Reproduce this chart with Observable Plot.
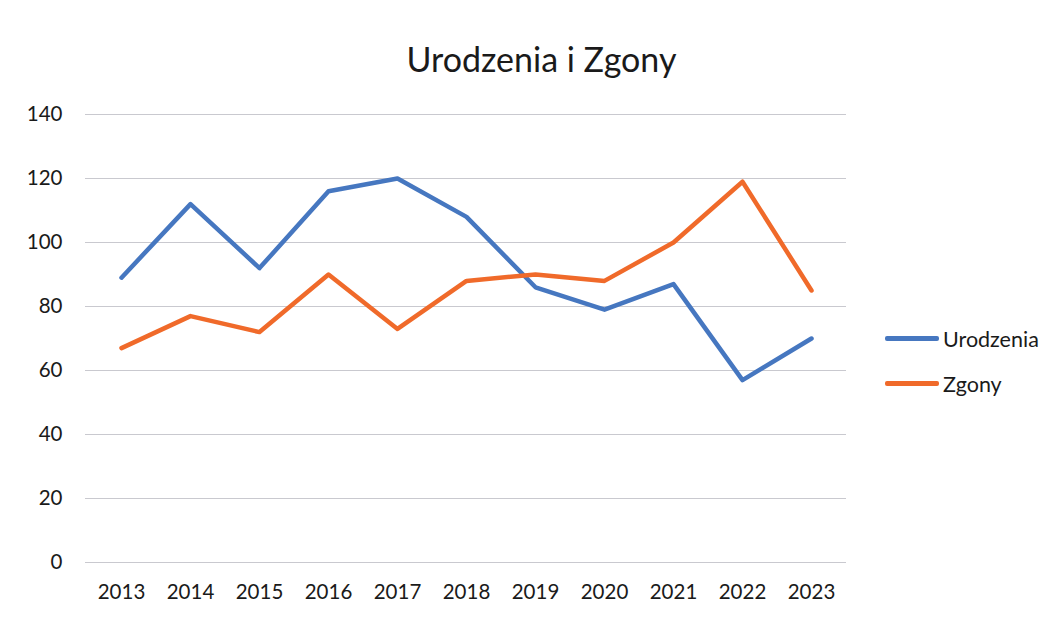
<!DOCTYPE html>
<html><head><meta charset="utf-8">
<script src="https://cdn.jsdelivr.net/npm/d3@7"></script>
<script src="https://cdn.jsdelivr.net/npm/@observablehq/plot@0.6"></script>
<style>
body{margin:0;background:#fff;font-family:Lato,"Open Sans",sans-serif;}
#wrap{position:relative;width:1059px;height:622px;}
#title{height:90px;line-height:1;font-size:34px;color:#1a1a1a;text-align:center;padding-left:24px;box-sizing:border-box;padding-top:42px;}
#legend{position:absolute;left:885px;top:316px;font-size:21.5px;color:#1a1a1a;}
.li{display:flex;align-items:center;height:45px;}
.sw{width:54px;height:4.5px;margin-right:4px;border-radius:2px;}
</style></head>
<body><div id="wrap"><div id="title">Urodzenia i Zgony</div><div id="chart"></div><div id="legend"></div></div>
<script>
const years = ["2013","2014","2015","2016","2017","2018","2019","2020","2021","2022","2023"];
const urodzenia = [89,112,92,116,120,108,86,79,87,57,70];
const zgony = [67,77,72,90,73,88,90,88,100,119,85];
const yTicks = [0,20,40,60,80,100,120,140];
const seriesNames = ["Urodzenia","Zgony"];
const colors = ["#4677c0","#f06a2a"];

const data = [
  ...years.map((y,i)=>({year:y, value:urodzenia[i], series:seriesNames[0]})),
  ...years.map((y,i)=>({year:y, value:zgony[i], series:seriesNames[1]}))
];

const chart = Plot.plot({
  width:1059, height:532,
  marginTop:24, marginBottom:60, marginLeft:85, marginRight:213,
  style:{fontFamily:"Lato, 'Open Sans', sans-serif", fontSize:"20.5px", color:"#1a1a1a", background:"#fff"},
  x:{type:"point", domain:years, padding:0.5, label:null, tickSize:0, tickPadding:22},
  y:{domain:[0,140], ticks:yTicks, label:null, tickSize:0, tickPadding:23},
  color:{domain:seriesNames, range:colors},
  marks:[
    Plot.gridY(yTicks,{stroke:"#c9c9cf", strokeOpacity:1, strokeWidth:1}),
    Plot.line(data,{x:"year", y:"value", z:"series", stroke:"series", strokeWidth:4.5, strokeLinejoin:"round", strokeLinecap:"round"})
  ]
});
document.getElementById("chart").appendChild(chart);

const lg = document.getElementById("legend");
seriesNames.forEach((n,i)=>{
  const d = document.createElement("div"); d.className="li";
  const s = document.createElement("div"); s.className="sw"; s.style.background=colors[i];
  const t = document.createElement("span"); t.textContent=n;
  d.appendChild(s); d.appendChild(t); lg.appendChild(d);
});
</script></body></html>
